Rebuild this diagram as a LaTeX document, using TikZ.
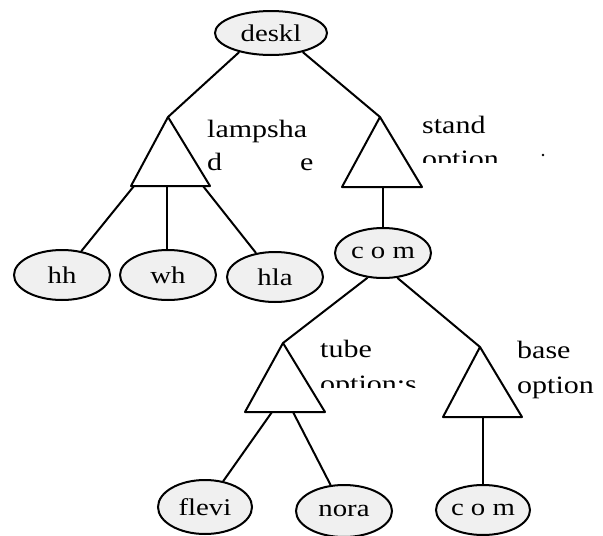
\documentclass[tikz,border=0pt]{standalone}
\usepackage{fontspec}
\setmainfont{Liberation Serif}
\usetikzlibrary{shapes.geometric}
\newcommand\sx[1]{\scalebox{1.2}[1]{#1}}
\tikzset{
  leaf/.style={ellipse, draw, line width=2pt, fill=black!6, inner sep=0pt,
    font=\fontsize{24}{24}\selectfont},
  conn/.style={line width=2pt},
  tri/.style={line width=2pt, line join=round},
  lbl/.style={anchor=base west, inner sep=0pt, font=\fontsize{25}{25}\selectfont}
}
\begin{document}
\begin{tikzpicture}[x=1pt, y=-1pt]
\useasboundingbox (0,0) rectangle (603,536);
% ellipse nodes
\node[leaf, minimum width=112pt, minimum height=44pt] (deskl) at (271,33) {\sx{deskl}};
\node[leaf, minimum width=96pt, minimum height=50pt] (hh) at (62,275) {\sx{hh}};
\node[leaf, minimum width=96pt, minimum height=50pt] (wh) at (168,275) {\sx{wh}};
\node[leaf, minimum width=96pt, minimum height=50pt] (hla) at (275,277) {\sx{hla}};
\node[leaf, minimum width=96pt, minimum height=50pt] (com) at (383,253) {\sx{c o m}};
\node[leaf, minimum width=94pt, minimum height=54pt] (flevi) at (205,507) {\sx{flevi}};
\node[leaf, minimum width=96pt, minimum height=52pt] (nora) at (344,511) {\sx{nora}};
\node[leaf, minimum width=94pt, minimum height=50pt] (com2) at (483,510) {\sx{c o m}};
% triangle coordinates
\coordinate (lA) at (168,117); \coordinate (lL) at (131,186); \coordinate (lR) at (210,186);
\coordinate (sA) at (380,117); \coordinate (sL) at (342,187); \coordinate (sR) at (422,187);
\coordinate (tA) at (283,343); \coordinate (tL) at (245,412); \coordinate (tR) at (325,412);
\coordinate (bA) at (480,347); \coordinate (bL) at (443,417); \coordinate (bR) at (522,417);
\draw[tri] (lA) -- (lL) -- (lR) -- cycle;
\draw[tri] (sA) -- (sL) -- (sR) -- cycle;
\draw[tri] (tA) -- (tL) -- (tR) -- cycle;
\draw[tri] (bA) -- (bL) -- (bR) -- cycle;
% attachment points on triangle bases
\coordinate (lb1) at (134,186); \coordinate (lb2) at (167,186); \coordinate (lb3) at (203,186);
\coordinate (sb) at (383,187);
\coordinate (tb1) at (272,412); \coordinate (tb2) at (293,412);
\coordinate (bb) at (483,417);
% connectors
\draw[conn] (deskl.211) -- (lA);
\draw[conn] (deskl.329) -- (sA);
\draw[conn] (lb1) -- (hh);
\draw[conn] (lb2) -- (lb2 |- wh.north);
\draw[conn] (lb3) -- (hla);
\draw[conn] (sb) -- (com);
\draw[conn] (com.238) -- (tA);
\draw[conn] (com.300) -- (bA);
\draw[conn] (tb1) -- (flevi);
\draw[conn] (tb2) -- (nora);
\draw[conn] (bb) -- (com2);
% labels
\node[lbl] (lamp1) at (207,137) {\sx{lampsha}};
\node[lbl] (lamp2) at (207,170) {\sx{d}};
\node[lbl] (lamp3) at (300,170) {\sx{e}};
\node[lbl] (stand1) at (422,133) {\sx{stand}};
\begin{scope}
\clip (415,140) rectangle (505,162);
\node[lbl] (stand2) at (422,167) {\sx{option}};
\end{scope}
\fill (543,155) circle (1.3pt);
\node[lbl] (tube1) at (320,357) {\sx{tube}};
\begin{scope}
\clip (315,365) rectangle (425,387);
\node[lbl] (tube2) at (320,392) {\sx{option:s}};
\end{scope}
\node[lbl] (base1) at (517,358) {\sx{base}};
\node[lbl] (base2) at (517,393) {\sx{option}};
\end{tikzpicture}
\end{document}
